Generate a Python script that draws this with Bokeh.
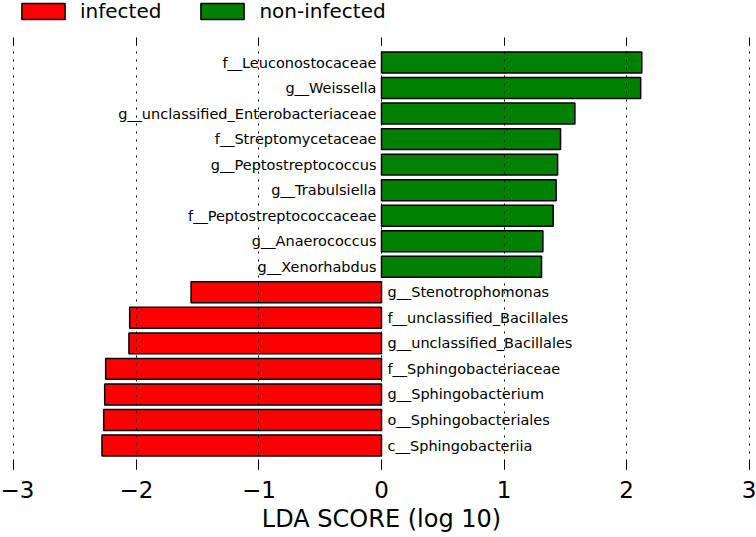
from bokeh.plotting import figure
from bokeh.layouts import column
from bokeh.models import ColumnDataSource, Range1d, LinearAxis, FixedTicker, Legend, LegendItem
from bokeh.embed import file_html
from bokeh.resources import INLINE

# ---- data (top to bottom) ----
features = [
    "f__Leuconostocaceae", "g__Weissella", "g__unclassified_Enterobacteriaceae",
    "f__Streptomycetaceae", "g__Peptostreptococcus", "g__Trabulsiella",
    "f__Peptostreptococcaceae", "g__Anaerococcus", "g__Xenorhabdus",
    "g__Stenotrophomonas", "f__unclassified_Bacillales", "g__unclassified_Bacillales",
    "f__Sphingobacteriaceae", "g__Sphingobacterium", "o__Sphingobacteriales",
    "c__Sphingobacteriia",
]
lda = [2.124, 2.115, 1.578, 1.461, 1.437, 1.425, 1.401, 1.317, 1.306,
       -1.554, -2.055, -2.061, -2.251, -2.259, -2.267, -2.281]
groups = ["non-infected"] * 9 + ["infected"] * 7
classes = ["infected", "non-infected"]
class_colors = ["#FF0000", "#008000"]
tick_values = [-3, -2, -1, 0, 1, 2, 3]
tick_labels = ["\u22123", "\u22122", "\u22121", "0", "1", "2", "3"]
x_label = "LDA SCORE (log 10)"

FONT = "DejaVu Sans"
n = len(features)
rows = [n - 1 - i for i in range(n)]

# ---- legend strip ----
LEG_H = 37
p0 = figure(width=756, height=LEG_H, output_backend="svg", toolbar_location=None,
            x_range=Range1d(0, 1), y_range=Range1d(0, 1), min_border=0,
            x_axis_location=None, y_axis_location=None)
p0.outline_line_color = None
p0.xgrid.grid_line_color = None
p0.ygrid.grid_line_color = None
leg_renderers = []
for cls, col in zip(classes, class_colors):
    # proxy glyph kept outside the visible range; only its legend swatch shows
    proxy = ColumnDataSource(dict(y=[-5.0], left=[0.0], right=[0.0]))
    r0 = p0.hbar(y="y", left="left", right="right", height=0.8, source=proxy,
                 fill_color=col, line_color="black", line_width=1.5)
    leg_renderers.append(r0)
legend = Legend(items=[LegendItem(label=c, renderers=[r]) for c, r in zip(classes, leg_renderers)],
                orientation="horizontal", location=(3, 14))
legend.glyph_width = 54
legend.glyph_height = 20
legend.label_standoff = 10
legend.spacing = 34
legend.padding = 0
legend.margin = 0
legend.border_line_color = None
legend.background_fill_alpha = 0
legend.label_text_font = FONT
legend.label_text_font_size = "20px"
legend.label_text_color = "black"
p0.add_layout(legend, "center")

# ---- main chart ----
p = figure(width=756, height=537 - LEG_H, output_backend="svg", toolbar_location=None,
           x_range=Range1d(-3.003, 3.003), y_range=Range1d(-0.94, 15.98),
           min_border_left=13, min_border_right=7, min_border_top=0,
           min_border_bottom=68, x_axis_location=None, y_axis_location=None)
p.outline_line_color = None
p.background_fill_color = "white"
p.border_fill_color = "white"

for cls, col in zip(classes, class_colors):
    idx = [i for i in range(n) if groups[i] == cls]
    src = ColumnDataSource(dict(
        y=[rows[i] for i in idx],
        right=[lda[i] for i in idx],
        left=[0.0] * len(idx),
        name=[features[i] for i in idx],
    ))
    p.hbar(y="y", left="left", right="right", height=0.82, source=src,
           fill_color=col, line_color="black", line_width=1.5)
    pos = cls == "non-infected"
    p.text(x="left", y="y", text="name", source=src,
           text_align="right" if pos else "left", text_baseline="middle",
           x_offset=-5 if pos else 6, text_font_size="14.5px",
           text_font={"value": FONT}, text_color="black")

ticker = FixedTicker(ticks=tick_values)
overrides = {float(v): lab for v, lab in zip(tick_values, tick_labels)}

xb = LinearAxis(ticker=ticker, axis_label=x_label)
xb.major_label_overrides = overrides
xb.axis_line_color = None
xb.major_tick_in = 9
xb.major_tick_out = 0
xb.minor_tick_line_color = None
xb.major_tick_line_color = "black"
xb.major_label_standoff = 11
xb.major_label_text_font = FONT
xb.major_label_text_font_size = "23px"
xb.major_label_text_color = "black"
xb.axis_label_text_font = FONT
xb.axis_label_text_font_size = "24px"
xb.axis_label_text_font_style = "normal"
xb.axis_label_text_color = "black"
xb.axis_label_standoff = 4
p.add_layout(xb, "below")

xt = LinearAxis(ticker=ticker)
xt.axis_line_color = None
xt.major_tick_in = 8
xt.major_tick_out = 0
xt.minor_tick_line_color = None
xt.major_tick_line_color = "black"
xt.major_label_text_font_size = "1px"
xt.major_label_text_color = None
xt.major_label_standoff = 0
p.add_layout(xt, "above")

p.xgrid.ticker = ticker
p.xgrid.grid_line_color = "black"
p.xgrid.grid_line_dash = "2 6"
p.xgrid.grid_line_width = 1
p.xgrid.level = "annotation"
p.ygrid.grid_line_color = None

layout = column(p0, p, spacing=0)
open("out.html", "w").write(file_html(layout, INLINE))
